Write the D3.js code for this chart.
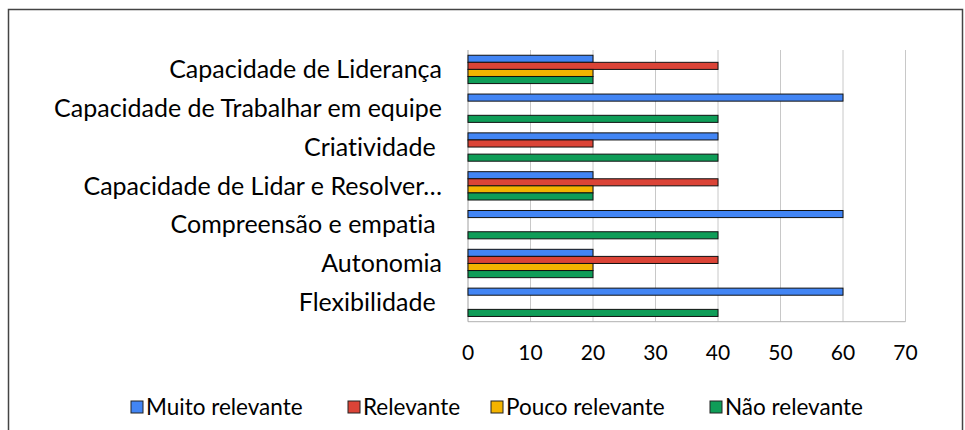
<!DOCTYPE html>
<meta charset="utf-8">
<style>
body { margin: 0; background: white; }
svg { display: block; }
text { font-family: Lato, "Open Sans", sans-serif; fill: #000; font-variant-ligatures: none; }
.cat { font-size: 25px; white-space: pre; }
.tick-label { font-size: 21px; }
.legend text { font-size: 22.5px; }
</style>
<body>
<script src="https://cdn.jsdelivr.net/npm/d3@7"></script>
<script>
// data
var categories = ["Capacidade de Liderança", "Capacidade de Trabalhar em equipe", "Criatividade ",
                  "Capacidade de Lidar e Resolver…", "Compreensão e empatia ", "Autonomia", "Flexibilidade "];
var series = ["Muito relevante", "Relevante", "Pouco relevante", "Não relevante"];
var muitoRelevante = [20, 60, 40, 20, 60, 20, 60];
var relevante      = [40,  0, 20, 40,  0, 40,  0];
var poucoRelevante = [20,  0,  0, 20,  0, 20,  0];
var naoRelevante   = [20, 40, 40, 20, 40, 20, 40];
var xTicks = [0, 10, 20, 30, 40, 50, 60, 70];
var colors = ["#4285F4", "#DB4437", "#F4B400", "#0F9D58"];

var values = [muitoRelevante, relevante, poucoRelevante, naoRelevante];

var W = 965, H = 430;
var plot = {left: 468, right: 905.5, top: 50, bottom: 321.7};

var svg = d3.select("body").append("svg")
    .attr("width", W)
    .attr("height", H);

// outer frame
svg.append("rect")
    .attr("x", 8.5).attr("y", 9.5)
    .attr("width", 954).attr("height", 440)
    .attr("fill", "white")
    .attr("stroke", "#444").attr("stroke-width", 1.5);

var x = d3.scaleLinear().domain([0, 70]).range([plot.left, plot.right]);
var y = d3.scaleBand().domain(categories).range([plot.top, plot.bottom])
    .paddingInner(0.27).paddingOuter(0.135);
var ys = d3.scaleBand().domain(series).range([0, y.bandwidth()]);

// gridlines
svg.append("g").selectAll("line")
    .data(xTicks.slice(1))
    .enter().append("line")
    .attr("x1", function(d) { return x(d); })
    .attr("x2", function(d) { return x(d); })
    .attr("y1", plot.top).attr("y2", plot.bottom)
    .attr("stroke", "#c8c8c8").attr("stroke-width", 1);

// axis lines
svg.append("line")
    .attr("x1", x(0)).attr("x2", x(70))
    .attr("y1", plot.bottom).attr("y2", plot.bottom)
    .attr("stroke", "#b0b0b0");
svg.append("line")
    .attr("x1", x(0)).attr("x2", x(0))
    .attr("y1", plot.top).attr("y2", plot.bottom)
    .attr("stroke", "#a0a0a0");

// bars
var groups = svg.append("g").selectAll("g")
    .data(categories)
    .enter().append("g")
    .attr("transform", function(d) { return "translate(0," + y(d) + ")"; });

groups.selectAll("rect")
    .data(function(d, i) {
      return series.map(function(s, j) { return {s: s, v: values[j][i], c: colors[j]}; });
    })
    .enter().append("rect")
    .filter(function(d) { return d.v > 0; })
    .attr("x", x(0))
    .attr("y", function(d) { return ys(d.s); })
    .attr("width", function(d) { return x(d.v) - x(0); })
    .attr("height", ys.bandwidth())
    .attr("fill", function(d) { return d.c; })
    .attr("stroke", "#111").attr("stroke-width", 1);

// category labels
svg.append("g").selectAll("text")
    .data(categories)
    .enter().append("text")
    .attr("class", "cat")
    .attr("x", 442)
    .attr("y", function(d) { return y(d) + y.bandwidth() / 2; })
    .attr("dy", "0.35em")
    .attr("text-anchor", "end")
    .text(function(d) { return d; });

// tick labels
svg.append("g").selectAll("text")
    .data(xTicks)
    .enter().append("text")
    .attr("class", "tick-label")
    .attr("x", function(d) { return x(d); })
    .attr("y", 360)
    .attr("text-anchor", "middle")
    .text(function(d) { return d; });

// legend
var legendX = [131, 348, 491, 710];
var legend = svg.append("g").attr("class", "legend")
    .selectAll("g")
    .data(series)
    .enter().append("g")
    .attr("transform", function(d, i) { return "translate(" + legendX[i] + ",401)"; });
legend.append("rect")
    .attr("width", 12).attr("height", 12)
    .attr("fill", function(d, i) { return colors[i]; })
    .attr("stroke", "#222").attr("stroke-width", 1);
legend.append("text")
    .attr("x", 15).attr("y", 6)
    .attr("dy", "0.35em")
    .text(function(d) { return d; });
</script>
</body>
